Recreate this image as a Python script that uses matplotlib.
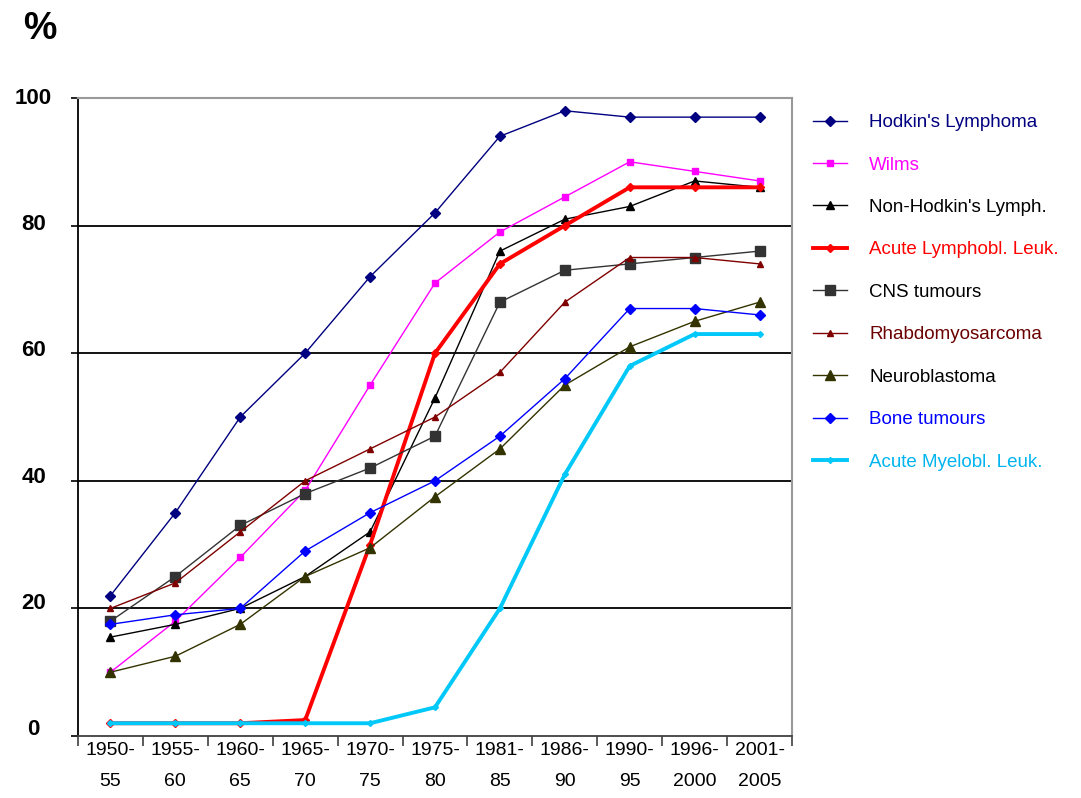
import matplotlib
matplotlib.use("Agg")
import matplotlib.pyplot as plt
from matplotlib import font_manager
from matplotlib.transforms import ScaledTranslation

categories = ["1950-\n55", "1955-\n60", "1960-\n65", "1965-\n70", "1970-\n75",
              "1975-\n80", "1981-\n85", "1986-\n90", "1990-\n95", "1996-\n2000",
              "2001-\n2005"]

hodgkin = [22, 35, 50, 60, 72, 82, 94, 98, 97, 97, 97]
wilms = [10, 18, 28, 38.5, 55, 71, 79, 84.5, 90, 88.5, 87]
nhl = [15.5, 17.5, 20, 25, 32, 53, 76, 81, 83, 87, 86]
all_leuk = [2, 2, 2, 2.5, 30, 60, 74, 80, 86, 86, 86]
cns = [18, 25, 33, 38, 42, 47, 68, 73, 74, 75, 76]
rhabdo = [20, 24, 32, 40, 45, 50, 57, 68, 75, 75, 74]
neuro = [10, 12.5, 17.5, 25, 29.5, 37.5, 45, 55, 61, 65, 68]
bone = [17.5, 19, 20, 29, 35, 40, 47, 56, 67, 67, 66]
aml = [2, 2, 2, 2, 2, 4.5, 20, 41, 58, 63, 63]

y_ticks = [0, 20, 40, 60, 80, 100]

names = [f.name for f in font_manager.fontManager.ttflist]
base_font = "Liberation Sans" if "Liberation Sans" in names else "DejaVu Sans"
narrow_font = "Liberation Sans Narrow" if "Liberation Sans Narrow" in names else base_font
plt.rcParams['font.family'] = [base_font, 'DejaVu Sans']

fig = plt.figure(figsize=(10.81, 7.98), dpi=100)
ax = fig.add_axes([78/1081, 1-736/798, (792-78)/1081, (736-98)/798])

x = list(range(len(categories)))

series = [
    ("Hodkin's Lymphoma", hodgkin, dict(color="#000080", lw=1.0, marker="D", ms=5), "#000080"),
    ("Wilms", wilms, dict(color="#FF00FF", lw=1.0, marker="s", ms=5), "#FF00FF"),
    ("Non-Hodkin's Lymph.", nhl, dict(color="#000000", lw=1.0, marker="^", ms=6), "#000000"),
    ("Acute Lymphobl. Leuk.", all_leuk, dict(color="#FF0000", lw=2.8, marker="D", ms=4), "#FF0000"),
    ("CNS tumours", cns, dict(color="#333333", lw=1.0, marker="s", ms=7.5), "#000000"),
    ("Rhabdomyosarcoma", rhabdo, dict(color="#800000", lw=1.0, marker="^", ms=4), "#6B0000"),
    ("Neuroblastoma", neuro, dict(color="#333300", lw=1.0, marker="^", ms=7), "#000000"),
    ("Bone tumours", bone, dict(color="#0000FF", lw=1.0, marker="D", ms=5.5), "#0000FF"),
    ("Acute Myelobl. Leuk.", aml, dict(color="#00C8F8", lw=2.8, marker="D", ms=3), "#00B4F0"),
]

handles = []
for i, (name, vals, style, tcol) in enumerate(series):
    h, = ax.plot(x, vals, label=name, zorder=3 + i, clip_on=False, **style)
    handles.append(h)

ax.set_xlim(-0.5, len(categories) - 0.5)
ax.set_ylim(0, 100)

for yv in [20, 40, 60, 80]:
    ax.axhline(yv, color="black", lw=1.3, zorder=1)

ax.spines['left'].set_color('black')
ax.spines['left'].set_linewidth(1.3)
ax.spines['bottom'].set_color('#404040')
ax.spines['bottom'].set_linewidth(1.3)
ax.spines['top'].set_color('#999999')
ax.spines['top'].set_linewidth(1.5)
ax.spines['right'].set_color('#999999')
ax.spines['right'].set_linewidth(1.5)

ax.set_yticks(y_ticks)
ax.set_yticklabels([str(v) for v in y_ticks], fontsize=16, fontweight='bold',
                   ha='center')
ax.tick_params(axis='y', direction='out', length=5, width=1.2, pad=27, color='black')

ax.set_xticks([i - 0.5 for i in range(len(categories) + 1)])
ax.set_xticklabels([])
ax.set_xticks(x, minor=True)
ax.set_xticklabels(categories, minor=True, fontsize=14, family=narrow_font,
                   linespacing=2.1)
ax.tick_params(axis='x', which='major', direction='out', length=7, width=1.2, color='#404040')
ax.tick_params(axis='x', which='minor', length=0, pad=4)

offs = {0: 9, 20: 7, 40: 6, 60: 5, 80: 4, 100: 2}
for lab, v in zip(ax.get_yticklabels(), y_ticks):
    lab.set_transform(lab.get_transform() + ScaledTranslation(0, offs[v]/100, fig.dpi_scale_trans))

fig.text(40/1081, 1-29/798, "%", fontsize=27, fontweight='bold', ha='center', va='center')

leg = fig.legend(handles=handles, loc='upper left', bbox_to_anchor=(813/1081, 1-114/798),
                 frameon=False, fontsize=13.5, handlelength=1.8, handletextpad=1.2,
                 labelspacing=1.35, borderaxespad=0, borderpad=0)
for txt, s in zip(leg.get_texts(), series):
    txt.set_color(s[3])

fig.savefig("out.png", dpi=100)
